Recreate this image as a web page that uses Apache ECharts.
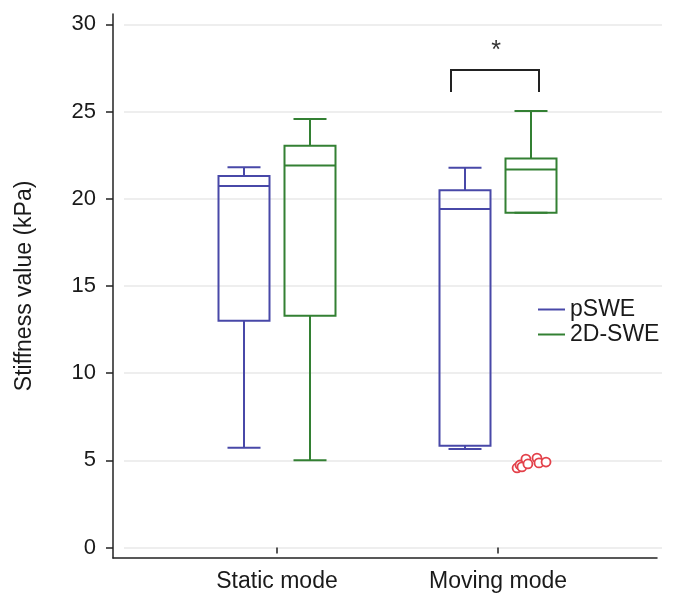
<!DOCTYPE html>
<html>
<head>
<meta charset="utf-8">
<script src="https://cdn.jsdelivr.net/npm/echarts@6/dist/echarts.min.js"></script>
<style>
  html, body { margin: 0; padding: 0; background: #fff; }
  #chart { width: 678px; height: 596px; }
</style>
</head>
<body>
<div id="chart"></div>
<script>
const categories = ['Static mode', 'Moving mode']
const yTicks = [0, 5, 10, 15, 20, 25, 30]

// [min, Q1, median, Q3, max]
const pswe = [
    [5.72, 13.0, 20.73, 21.3, 21.8],
    [5.65, 5.84, 19.41, 20.48, 21.78]
]
const swe2d = [
    [5.0, 13.29, 21.9, 23.04, 24.57],
    [19.2, 19.2, 21.68, 22.3, 25.03]
]
// 2D-SWE outliers in moving mode: jitter (band fraction) and value
const outlierJitter = [-0.063, -0.05, -0.041, -0.023, -0.014, 0.027, 0.036, 0.068]
const outlierValues = [4.56, 4.73, 4.62, 5.07, 4.79, 5.13, 4.85, 4.90]

const font = 'Liberation Sans, Arial, Helvetica, sans-serif'
const textColor = '#1a1a1a'
const blue = '#4848a8'
const green = '#338033'
const red = '#e3414a'

const boxHalf = 25.5
const capHalf = 16.5

const boxRenderer = (shift) => (params, api) => {
    const cat = api.value(0)
    const py = v => api.coord([cat, v])[1]
    const x = api.coord([cat, 0])[0] + shift
    const lo = py(api.value(1)), q1 = py(api.value(2)), md = py(api.value(3))
    const q3 = py(api.value(4)), hi = py(api.value(5))
    const st = {stroke: api.visual('color'), lineWidth: 2, fill: null}
    const line = (x1, y1, x2, y2) => ({type: 'line', shape: {x1, y1, x2, y2}, style: st})
    return {
        type: 'group',
        children: [
            line(x, q3, x, hi),
            line(x - capHalf, hi, x + capHalf, hi),
            line(x, q1, x, lo),
            line(x - capHalf, lo, x + capHalf, lo),
            {type: 'rect', shape: {x: x - boxHalf, y: q3, width: boxHalf * 2, height: q1 - q3}, style: st},
            line(x - boxHalf, md, x + boxHalf, md)
        ]
    }
}

const outlierRenderer = (params, api) => {
    const c = api.coord([api.value(0), api.value(2)])
    const band = api.size([1, 0])[0]
    return {
        type: 'circle',
        shape: {cx: c[0] + 33 + api.value(1) * band, cy: c[1], r: 4.5},
        style: {fill: '#fff', stroke: red, lineWidth: 1.8}
    }
}

const chart = echarts.init(document.getElementById('chart'))

const option = {
    animation: false,
    textStyle: {fontFamily: font},
    grid: [
        {left: 113, right: 21, top: 14, bottom: 38},
        {left: 113, right: 21, top: 24.3, bottom: 48.5},
        {left: 166.5, right: 69.5, top: 24.3, bottom: 48.5},
        {left: 124, right: 16, top: 24.3, bottom: 48.5}
    ],
    xAxis: [
        {
            gridIndex: 0, type: 'value', min: 0, max: 1,
            axisLine: {show: true, lineStyle: {color: '#222', width: 1.5}},
            axisTick: {show: false}, axisLabel: {show: false}, splitLine: {show: false}
        },
        {gridIndex: 1, type: 'value', min: 0, max: 1, show: false},
        {
            gridIndex: 2, type: 'category', data: categories, offset: 10.5,
            axisLine: {show: false},
            axisTick: {show: true, alignWithLabel: true, length: 6, lineStyle: {color: '#222', width: 1.5}},
            axisLabel: {fontSize: 23, color: textColor, margin: 12, fontFamily: font},
            splitLine: {show: false}
        },
        {gridIndex: 3, type: 'value', min: 0, max: 1, show: false}
    ],
    yAxis: [
        {
            gridIndex: 0, type: 'value', min: 0, max: 1,
            axisLine: {show: true, lineStyle: {color: '#222', width: 1.5}},
            axisTick: {show: false}, axisLabel: {show: false}, splitLine: {show: false}
        },
        {
            gridIndex: 1, type: 'value', min: yTicks[0], max: yTicks[yTicks.length - 1], interval: 5,
            name: 'Stiffness value (kPa)',
            nameLocation: 'middle',
            nameGap: 77,
            nameTextStyle: {fontSize: 23, color: textColor, fontFamily: font},
            axisLine: {show: false},
            axisTick: {show: true, length: 7, lineStyle: {color: '#222', width: 1.5}},
            axisLabel: {fontSize: 22, color: textColor, margin: 17, fontFamily: font},
            splitLine: {show: false}
        },
        {gridIndex: 2, type: 'value', min: yTicks[0], max: yTicks[yTicks.length - 1], show: false},
        {
            gridIndex: 3, type: 'value', min: yTicks[0], max: yTicks[yTicks.length - 1], interval: 5,
            axisLine: {show: false}, axisTick: {show: false}, axisLabel: {show: false},
            splitLine: {show: true, lineStyle: {color: '#e9e9e9', width: 1.5}}
        }
    ],
    legend: {
        data: ['pSWE', '2D-SWE'],
        orient: 'vertical',
        left: 538,
        top: 298,
        padding: 0,
        icon: 'rect',
        itemWidth: 27,
        itemHeight: 2,
        itemGap: 2,
        textStyle: {fontSize: 23, color: textColor, fontFamily: font}
    },
    series: [
        {
            name: 'pSWE',
            type: 'custom',
            xAxisIndex: 2, yAxisIndex: 2,
            itemStyle: {color: blue},
            encode: {x: 0, y: [1, 2, 3, 4, 5]},
            renderItem: boxRenderer(-33),
            data: pswe.map((d, i) => [i].concat(d))
        },
        {
            name: '2D-SWE',
            type: 'custom',
            xAxisIndex: 2, yAxisIndex: 2,
            itemStyle: {color: green},
            encode: {x: 0, y: [1, 2, 3, 4, 5]},
            renderItem: boxRenderer(33),
            data: swe2d.map((d, i) => [i].concat(d))
        },
        {
            name: 'outliers',
            type: 'custom',
            xAxisIndex: 2, yAxisIndex: 2,
            itemStyle: {color: red},
            encode: {x: 0, y: 2},
            renderItem: outlierRenderer,
            data: outlierValues.map((v, i) => [1, outlierJitter[i], v])
        }
    ],
    graphic: [
        {
            type: 'polyline',
            shape: {points: [[451, 92], [451, 70], [539, 70], [539, 92]]},
            style: {stroke: '#222', lineWidth: 2, fill: null}
        },
        {
            type: 'text',
            x: 496, y: 39,
            style: {text: '*', fontSize: 25, fill: '#333', align: 'center', verticalAlign: 'top', fontFamily: font}
        }
    ]
}

chart.setOption(option)
</script>
</body>
</html>
